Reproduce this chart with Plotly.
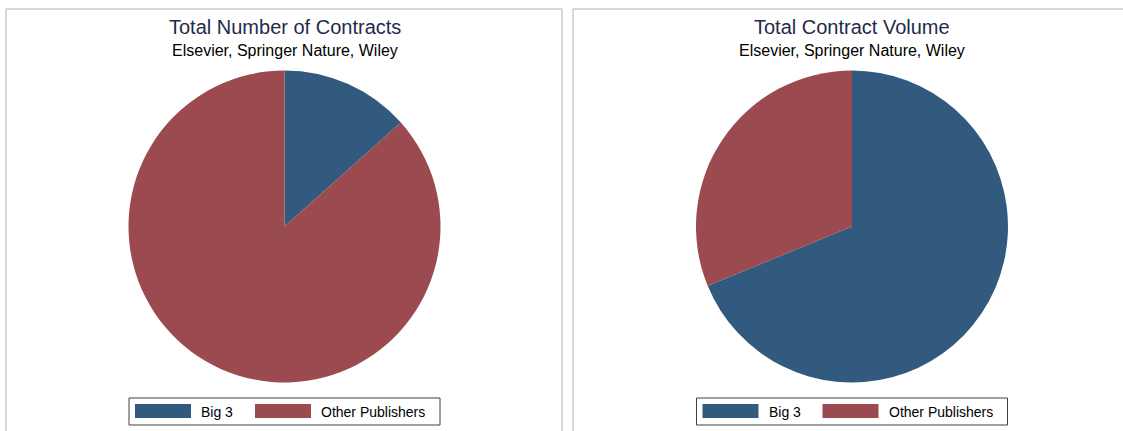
import plotly.graph_objects as go

W, H = 1123, 431

labels = ["Big 3", "Other Publishers"]
colors = ["#325a7e", "#9b4a50"]
contracts_share = [13.4, 86.6]
volume_share = [68.8, 31.2]

titles = ["Total Number of Contracts", "Total Contract Volume"]
subtitle = "Elsevier, Springer Nature, Wiley"

FONT = "Liberation Sans, Arial, sans-serif"


def px_x(v):
    return v / W


def px_y(v):
    return 1 - v / H


centers = [284.5, 852.0]
cy, r = 226.5, 156.0

fig = go.Figure()
for cx, vals in zip(centers, [contracts_share, volume_share]):
    fig.add_trace(go.Pie(
        labels=labels, values=vals, sort=False, direction="clockwise", rotation=0,
        marker=dict(colors=colors, line=dict(width=0)),
        textinfo="none", hoverinfo="label+percent", showlegend=False,
        domain=dict(x=[px_x(cx - r), px_x(cx + r)], y=[px_y(cy + r), px_y(cy - r)]),
    ))

shapes = []
annotations = []
# panel borders
for x0, x1 in [(6, 562), (573, 1140)]:
    shapes.append(dict(type="rect", xref="paper", yref="paper",
                       x0=px_x(x0), x1=px_x(x1), y0=px_y(460), y1=px_y(9),
                       line=dict(color="#b4b4b4", width=1), fillcolor="rgba(0,0,0,0)", layer="below"))

for cx, title in zip(centers, titles):
    annotations.append(dict(text=title, x=px_x(cx), y=px_y(27), xref="paper", yref="paper",
                            xanchor="center", yanchor="middle", showarrow=False,
                            font=dict(family=FONT, size=20, color="#1f2b4c")))
    annotations.append(dict(text=subtitle, x=px_x(cx), y=px_y(50), xref="paper", yref="paper",
                            xanchor="center", yanchor="middle", showarrow=False,
                            font=dict(family=FONT, size=16, color="#000000")))
    # legend box
    shapes.append(dict(type="rect", xref="paper", yref="paper",
                       x0=px_x(cx - 155.5), x1=px_x(cx + 155.5), y0=px_y(425), y1=px_y(398),
                       line=dict(color="#404040", width=1), fillcolor="white"))
    sw_offsets = [-149.5, -29.5]
    for off, lab, col in zip(sw_offsets, labels, colors):
        shapes.append(dict(type="rect", xref="paper", yref="paper",
                           x0=px_x(cx + off), x1=px_x(cx + off + 56), y0=px_y(418), y1=px_y(404),
                           line=dict(width=0), fillcolor=col))
        annotations.append(dict(text=lab, x=px_x(cx + off + 64), y=px_y(411.5), xref="paper", yref="paper",
                                xanchor="left", yanchor="middle", showarrow=False,
                                font=dict(family=FONT, size=14, color="#000000")))

fig.update_layout(width=W, height=H, margin=dict(l=0, r=0, t=0, b=0),
                  paper_bgcolor="white", plot_bgcolor="white",
                  shapes=shapes, annotations=annotations, showlegend=False)

fig.write_html("out.html", config={"displayModeBar": False},
               post_script="document.body.style.margin='0';document.body.style.overflow='hidden';")
